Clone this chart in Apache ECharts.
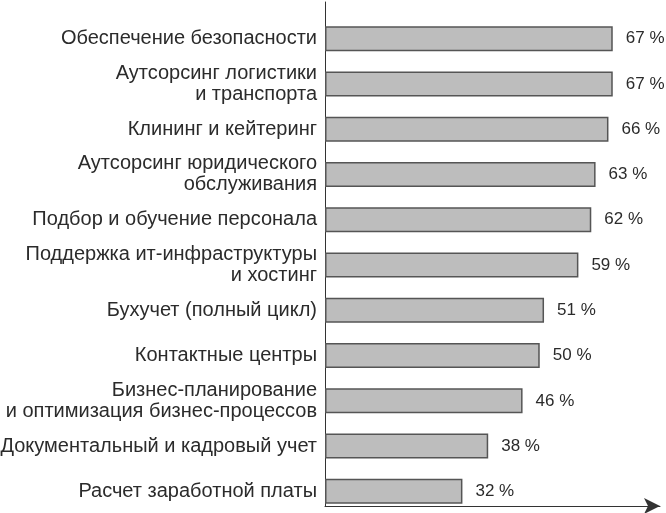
<!DOCTYPE html>
<html lang="ru">
<head>
<meta charset="utf-8">
<title>Outsourcing</title>
<script src="https://cdn.jsdelivr.net/npm/echarts@6/dist/echarts.min.js"></script>
<style>
  html, body { margin: 0; padding: 0; background: #fff; }
  #chart { width: 666px; height: 513px; }
</style>
</head>
<body>
<div id="chart"></div>
<script>
// data
var categories = [
  'Обеспечение безопасности',
  'Аутсорсинг логистики\nи транспорта',
  'Клининг и кейтеринг',
  'Аутсорсинг юридического\nобслуживания',
  'Подбор и обучение персонала',
  'Поддержка ит-инфраструктуры\nи хостинг',
  'Бухучет (полный цикл)',
  'Контактные центры',
  'Бизнес-планирование\nи оптимизация бизнес-процессов',
  'Документальный и кадровый учет',
  'Расчет заработной платы'
];
var shares = [67, 67, 66, 63, 62, 59, 51, 50, 46, 38, 32];

var chart = echarts.init(document.getElementById('chart'));

var option = {
  animation: false,
  textStyle: { fontFamily: 'Liberation Sans, Arial, sans-serif' },
  grid: [
    { left: 325, right: 6, top: 16, bottom: -1, outerBoundsMode: 'none' },
    { left: 325, right: 6, top: 2, bottom: 7, outerBoundsMode: 'none' }
  ],
  xAxis: [
    { gridIndex: 0, type: 'value', min: 0, max: 78, show: false },
    {
      gridIndex: 1, type: 'value', min: 0, max: 1,
      axisLine: { show: true, symbol: ['none', 'arrow'], symbolSize: [12, 16],
                  lineStyle: { color: '#333', width: 1 } },
      axisTick: { show: false }, axisLabel: { show: false }, splitLine: { show: false }
    }
  ],
  yAxis: [
    {
      gridIndex: 0, type: 'category', data: categories, inverse: true,
      axisLine: { show: false }, axisTick: { show: false },
      axisLabel: { margin: 8, fontSize: 20, lineHeight: 21, color: '#2b2b2b' }
    },
    {
      gridIndex: 1, type: 'value', min: 0, max: 1,
      axisLine: { show: true, lineStyle: { color: '#333', width: 1 } },
      axisTick: { show: false }, axisLabel: { show: false }, splitLine: { show: false }
    }
  ],
  series: [{
    type: 'bar',
    xAxisIndex: 0, yAxisIndex: 0,
    data: shares,
    barWidth: 25,
    itemStyle: { color: '#bdbdbd', borderColor: '#555', borderWidth: 1.5 },
    label: { show: true, position: 'right', distance: 13, fontSize: 17, color: '#2b2b2b',
             formatter: '{c} %' }
  }]
};

chart.setOption(option);
</script>
</body>
</html>
